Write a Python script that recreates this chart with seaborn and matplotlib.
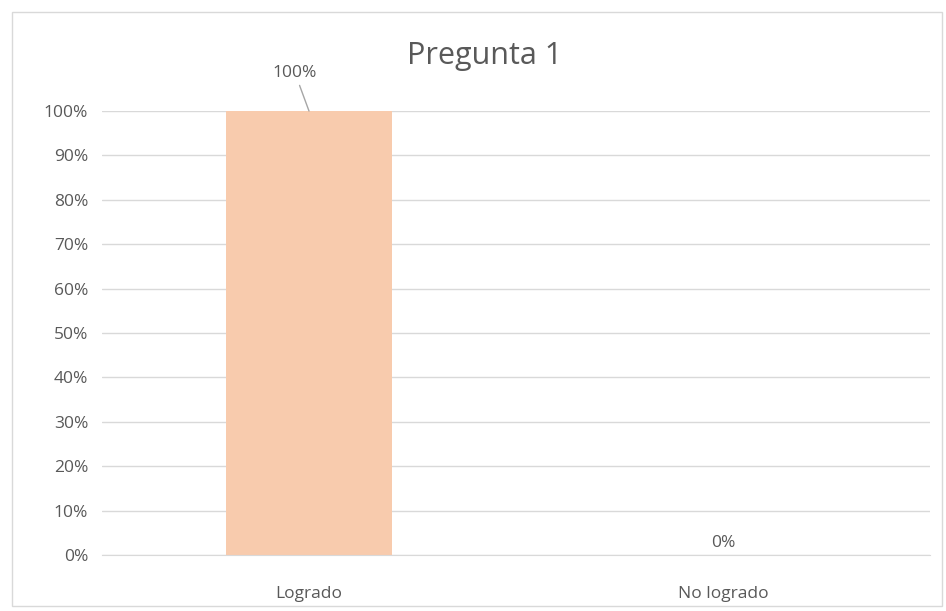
import matplotlib
matplotlib.use("Agg")
import matplotlib.pyplot as plt
import seaborn as sns
from matplotlib.patches import Rectangle

categorias = ["Logrado", "No logrado"]
valores = [1.00, 0.00]
etiquetas = ["100%", "0%"]
ticks = [0, 0.1, 0.2, 0.3, 0.4, 0.5, 0.6, 0.7, 0.8, 0.9, 1.0]
tick_labels = ["0%", "10%", "20%", "30%", "40%", "50%", "60%", "70%", "80%", "90%", "100%"]

sns.set_style("white")
plt.rcParams["font.family"] = ["Open Sans", "DejaVu Sans"]
gris = "#595959"

fig = plt.figure(figsize=(9.46, 6.11), dpi=100)
ax = fig.add_axes([102 / 946, 1 - 555 / 611, 828 / 946, 444 / 611])

sns.barplot(x=categorias, y=valores, color="#F8CBAD", width=0.4, saturation=1,
            linewidth=0, ax=ax)

ax.set_ylim(0, 1)
ax.set_xlim(-0.5, 1.5)
ax.set_yticks(ticks)
ax.set_yticklabels(tick_labels, color=gris, fontsize=12.5)
ax.tick_params(axis="x", colors=gris, labelsize=12.5, length=0, pad=22)
ax.tick_params(axis="y", length=0, pad=10)
ax.yaxis.grid(True, color="#D9D9D9", linewidth=1)
ax.set_axisbelow(True)
for s in ["top", "right", "left"]:
    ax.spines[s].set_visible(False)
ax.spines["bottom"].set_color("#D9D9D9")

# etiqueta 100% con linea guia
ax.annotate(etiquetas[0], xy=(0, valores[0]), xytext=(-0.034, 1.086),
            ha="center", va="center", fontsize=12.5, color=gris,
            arrowprops=dict(arrowstyle="-", color="#A6A6A6", lw=1, shrinkA=1, shrinkB=0),
            annotation_clip=False)
ax.text(1, valores[1] + 0.008, etiquetas[1], ha="center", va="bottom", fontsize=12.5, color=gris)

fig.text(485 / 946, 1 - 56 / 611, "Pregunta 1", ha="center", va="center", fontsize=22, color=gris)

fig.patches.append(Rectangle((12 / 946, 5 / 611), 930 / 946, 594 / 611, transform=fig.transFigure,
                             fill=False, edgecolor="#D9D9D9", linewidth=1))

fig.savefig("out.png", dpi=100)
